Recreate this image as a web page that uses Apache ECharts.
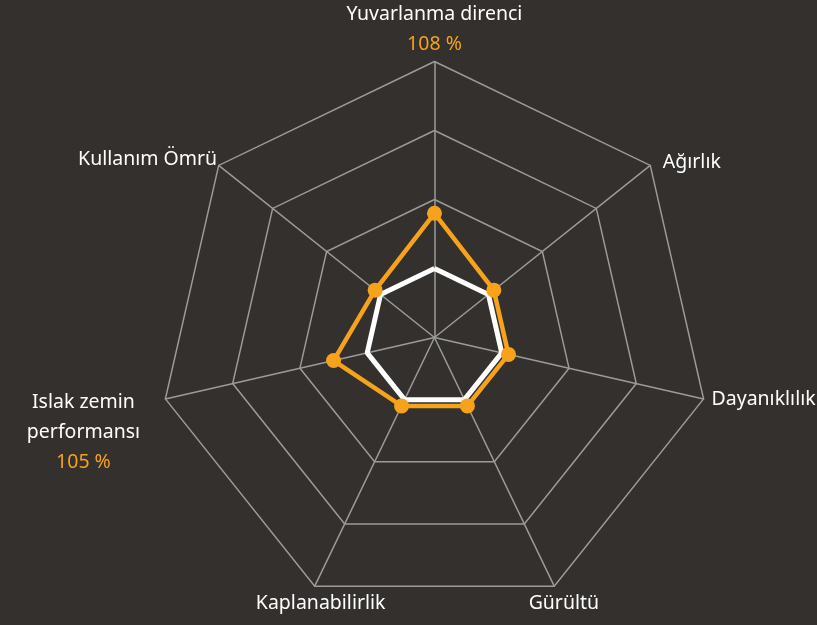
<!DOCTYPE html>
<html>
<head>
<meta charset="utf-8">
<script src="https://cdn.jsdelivr.net/npm/echarts@6/dist/echarts.min.js"></script>
<style>
  html, body { margin: 0; padding: 0; background: #33302e; }
  #chart { width: 817px; height: 625px; }
</style>
</head>
<body>
<div id="chart"></div>
<script>
// indicators, counter-clockwise from the top (ECharts radar order)
const indicatorNames = ['Yuvarlanma direnci', 'Kullanım Ömrü', 'Islak zemin performansı', 'Kaplanabilirlik', 'Gürültü', 'Dayanıklılık', 'Ağırlık'];
const indicatorLabels = ['Yuvarlanma direnci', 'Kullanım Ömrü', 'Islak zemin\nperformansı', 'Kaplanabilirlik', 'Gürültü', 'Dayanıklılık', 'Ağırlık'];
const valueLabels = ['108 %', '', '105 %', '', '', '', ''];
const productValues = [108, 101, 105, 101, 101, 101, 101];
const referenceValues = [100, 100, 100, 100, 100, 100, 100];
const scaleMin = 90;
const scaleMax = 130;

const orange = '#f6a21c';
const gridColor = '#9b9b9b';
const font = 'Noto Sans';

// small nudges so each name sits where it does in the original layout
const labelNudge = [
  {},
  { padding: [0, 0, 10, 0] },
  { width: 118, align: 'center', padding: [0, 21, 0, 0], spacer: 66 },
  { width: 58, align: 'left', padding: [31, 0, 0, 0] },
  { width: 44, align: 'right', padding: [31, 0, 0, 0] },
  { padding: [0, 0, 0, 6] },
  { padding: [0, 0, 4, 11] }
];

const rich = {};
indicatorNames.forEach((n, i) => {
  const nd = labelNudge[i];
  const base = { fontSize: 19.5, lineHeight: 30, fontFamily: font };
  if (nd.width) { base.width = nd.width; base.align = nd.align; }
  if (nd.padding) base.padding = nd.padding;
  rich['n' + i] = Object.assign({}, base, { color: '#ffffff' });
  rich['v' + i] = Object.assign({}, base, { color: orange });
  if (nd.spacer) rich['s' + i] = { fontSize: 1, lineHeight: nd.spacer };
});

const chart = echarts.init(document.getElementById('chart'));

chart.setOption({
  backgroundColor: '#33302e',
  radar: {
    center: ['53.18%', '54%'],
    radius: 276,
    splitNumber: 4,
    shape: 'polygon',
    indicator: indicatorNames.map(n => ({ name: n, min: scaleMin, max: scaleMax })),
    axisName: {
      formatter: function (name) {
        const i = indicatorNames.indexOf(name);
        let txt = indicatorLabels[i].split('\n').map(l => '{n' + i + '|' + l + '}').join('\n');
        if (valueLabels[i]) txt += '\n{v' + i + '|' + valueLabels[i] + '}';
        if (labelNudge[i].spacer) txt = '{s' + i + '| }\n' + txt;
        return txt;
      },
      rich: rich
    },
    nameGap: 2,
    splitLine: { lineStyle: { color: gridColor, width: 1.5 } },
    splitArea: { show: false },
    axisLine: { lineStyle: { color: gridColor, width: 1.5 } }
  },
  series: [{
    type: 'radar',
    silent: true,
    data: [
      {
        value: referenceValues,
        symbol: 'none',
        lineStyle: { color: '#ffffff', width: 5 }
      },
      {
        value: productValues,
        symbol: 'circle',
        symbolSize: 15,
        itemStyle: { color: orange },
        lineStyle: { color: orange, width: 4.5 }
      }
    ]
  }]
});
</script>
</body>
</html>
